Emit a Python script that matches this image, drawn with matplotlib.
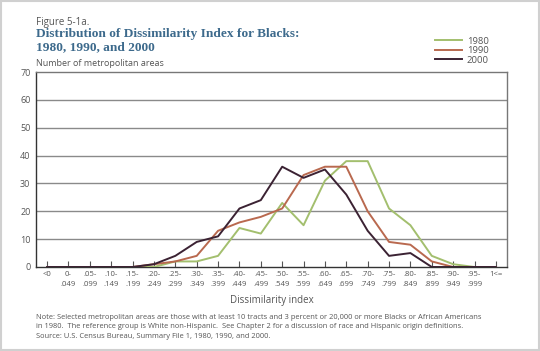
import matplotlib
matplotlib.use("Agg")
import matplotlib.pyplot as plt
from matplotlib.patches import Rectangle

categories_top = ["<0", "0-", ".05-", ".10-", ".15-", ".20-", ".25-", ".30-", ".35-", ".40-", ".45-",
                  ".50-", ".55-", ".60-", ".65-", ".70-", ".75-", ".80-", ".85-", ".90-", ".95-", "1<="]
categories_bot = ["", ".049", ".099", ".149", ".199", ".249", ".299", ".349", ".399", ".449", ".499",
                  ".549", ".599", ".649", ".699", ".749", ".799", ".849", ".899", ".949", ".999", ""]
v1980 = [0, 0, 0, 0, 0, 0, 2, 2, 4, 14, 12, 23, 15, 31, 38, 38, 21, 15, 4, 1, 0, 0]
v1990 = [0, 0, 0, 0, 0, 1, 2, 4, 13, 16, 18, 21, 33, 36, 36, 20, 9, 8, 2, 0, 0, 0]
v2000 = [0, 0, 0, 0, 0, 1, 4, 9, 11, 21, 24, 36, 32, 35, 26, 13, 4, 5, 0, 0, 0, 0]
yticks = [0, 10, 20, 30, 40, 50, 60, 70]

font = "Open Sans"
txtc = "#555555"

fig = plt.figure(figsize=(5.4, 3.51), dpi=100)
fig.patches.append(Rectangle((0.002, 0.003), 0.996, 0.994, transform=fig.transFigure,
                             fill=False, edgecolor="#d0d0d0", linewidth=1.5))
ax = fig.add_axes([36/540, 1-267/351, (507-36)/540, (267-72)/351])

x = list(range(len(categories_top)))
ax.plot(x, v1980, color="#a3bf6e", lw=1.4, label="1980", zorder=3)
ax.plot(x, v1990, color="#b9694f", lw=1.4, label="1990", zorder=4)
ax.plot(x, v2000, color="#3b2233", lw=1.4, label="2000", zorder=5)

ax.set_xlim(-0.52, len(x) - 0.48)
ax.set_ylim(0, 70)
ax.set_yticks(yticks)
for y in yticks[1:-1]:
    ax.axhline(y, color="#8a8a8a", lw=1.0, zorder=1)
for s in ["top", "right"]:
    ax.spines[s].set_color("#777777")
    ax.spines[s].set_linewidth(1.0)
ax.spines["left"].set_color("#333333")
ax.spines["bottom"].set_color("#333333")
ax.spines["left"].set_linewidth(1.0)
ax.spines["bottom"].set_linewidth(1.0)

ax.set_xticks(x)
ax.set_xticklabels([f"{a}\n{b}" for a, b in zip(categories_top, categories_bot)],
                   fontsize=5.6, color=txtc, family=font, linespacing=1.5)
ax.tick_params(axis="x", direction="in", length=4, width=0.8, color="#555555", pad=3)
ax.tick_params(axis="y", length=0, pad=4, labelsize=6.5, labelcolor=txtc)
for lbl in ax.get_yticklabels():
    lbl.set_family(font)

ax.set_xlabel("Dissimilarity index", fontsize=7, color=txtc, family=font, labelpad=5)

fig.text(36/540, 1-22/351, "Figure 5-1a.", fontsize=7, color=txtc, family=font, va="center")
fig.text(36/540, 1-40.5/351, "Distribution of Dissimilarity Index for Blacks:\n1980, 1990, and 2000",
         fontsize=9.6, color="#3d6a8c", family="Liberation Serif", weight="bold", va="center",
         linespacing=1.05)
fig.text(36/540, 1-64/351, "Number of metropolitan areas", fontsize=6.5, color=txtc, family=font,
         va="center")

leg = fig.legend(loc="upper left", bbox_to_anchor=(431/540, 1-33/351), frameon=False,
                 handlelength=2.9, handletextpad=0.5, labelspacing=0.05,
                 prop={"family": font, "size": 6.8}, borderaxespad=0)
for t in leg.get_texts():
    t.set_color(txtc)

note = ("Note: Selected metropolitan areas are those with at least 10 tracts and 3 percent or 20,000 or more Blacks or African Americans\n"
        "in 1980.  The reference group is White non-Hispanic.  See Chapter 2 for a discussion of race and Hispanic origin definitions.\n"
        "Source: U.S. Census Bureau, Summary File 1, 1980, 1990, and 2000.")
fig.text(36/540, 1-327/351, note, fontsize=5.4, color=txtc, family=font, va="center",
         linespacing=1.5)

fig.savefig("out.png", dpi=100)
